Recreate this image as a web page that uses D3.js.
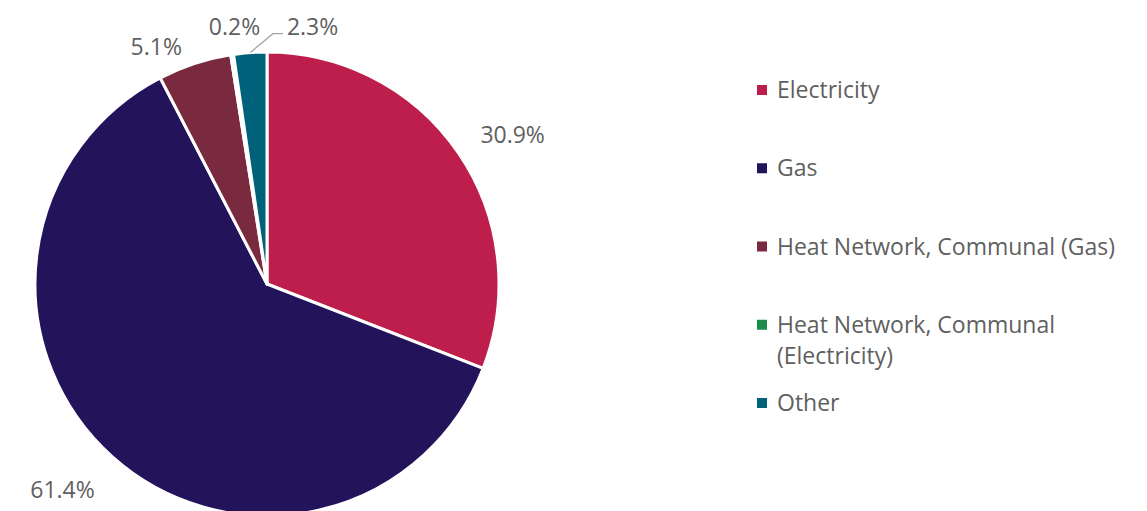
<!DOCTYPE html>
<html>
<head>
<meta charset="utf-8">
<script src="https://cdn.jsdelivr.net/npm/d3@7/dist/d3.min.js"></script>
<style>
  html, body { margin: 0; padding: 0; background: #fff; }
  svg { display: block; font-family: "Open Sans", "Noto Sans", sans-serif; }
</style>
</head>
<body>
<svg id="chart" width="1147" height="511"></svg>
<script>
// Share of households by main heating fuel
const categories = ["Electricity", "Gas", "Heat Network, Communal (Gas)", "Heat Network, Communal (Electricity)", "Other"];
const values = [30.9, 61.4, 5.1, 0.2, 2.3];
const colors = ["#BE1E4B", "#22135A", "#7A2A3E", "#1E8A4A", "#00627A"];
// legend text lines (long label wraps onto two lines)
const legendLines = [["Electricity"], ["Gas"], ["Heat Network, Communal (Gas)"], ["Heat Network, Communal", "(Electricity)"], ["Other"]];

const svg = d3.select("#chart");
const cx = 267, cy = 284, r = 232;
const fontSize = 23;
const textColor = "#5f5f5f";

const pie = d3.pie().sort(null).value(d => d)(values);
const arc = d3.arc().innerRadius(0).outerRadius(r);

const g = svg.append("g").attr("transform", `translate(${cx},${cy})`);

g.selectAll("path.slice")
  .data(pie)
  .join("path")
  .attr("class", "slice")
  .attr("d", arc)
  .attr("fill", (d, i) => colors[i])
  .attr("stroke", "#fff")
  .attr("stroke-width", 3)
  .attr("stroke-linejoin", "round");

// data labels placed outside the pie along each slice's mid-angle
const labelCfg = [
  { rad: r + 30, anchor: "start", dx: -3, dy: -1 },
  { rad: r + 30, anchor: "end", dx: 3, dy: 11 },
  { rad: r + 18, anchor: "end", dx: -7, dy: 0 },
  { rad: r + 26, anchor: "end", dx: 32, dy: -2 },
  { rad: r + 18, anchor: "start", dx: 38, dy: -8, leader: true }
];
const mid = d => (d.startAngle + d.endAngle) / 2;
const fmt = v => d3.format(".1f")(v) + "%";

pie.forEach((d, i) => {
  const c = labelCfg[i];
  const a = mid(d);
  const lx = Math.sin(a) * c.rad + c.dx;
  const ly = -Math.cos(a) * c.rad + c.dy;
  if (c.leader) {
    const sx = Math.sin(a) * r, sy = -Math.cos(a) * r;
    const ex = lx - 4, ey = ly + 7;
    g.append("polyline")
      .attr("points", `${sx},${sy} ${ex - 10},${ey} ${ex},${ey}`)
      .attr("fill", "none")
      .attr("stroke", "#A6A6A6")
      .attr("stroke-width", 1.3);
  }
  g.append("text")
    .attr("x", lx)
    .attr("y", ly)
    .attr("dy", "0.35em")
    .attr("text-anchor", c.anchor)
    .attr("font-size", fontSize)
    .attr("fill", textColor)
    .text(fmt(values[i]));
});

// legend
const legendY = d3.scalePoint().domain(d3.range(categories.length)).range([90, 403]);
const legend = svg.append("g");
categories.forEach((name, i) => {
  const y = legendY(i);
  const row = legend.append("g");
  row.append("rect")
    .attr("x", 757).attr("y", y - 5)
    .attr("width", 10).attr("height", 10)
    .attr("fill", colors[i]);
  const t = row.append("text")
    .attr("x", 777).attr("y", y)
    .attr("font-size", fontSize)
    .attr("fill", textColor);
  legendLines[i].forEach((line, k) => {
    t.append("tspan").attr("x", 777).attr("dy", k === 0 ? "0.35em" : "31px").text(line);
  });
});
</script>
</body>
</html>
